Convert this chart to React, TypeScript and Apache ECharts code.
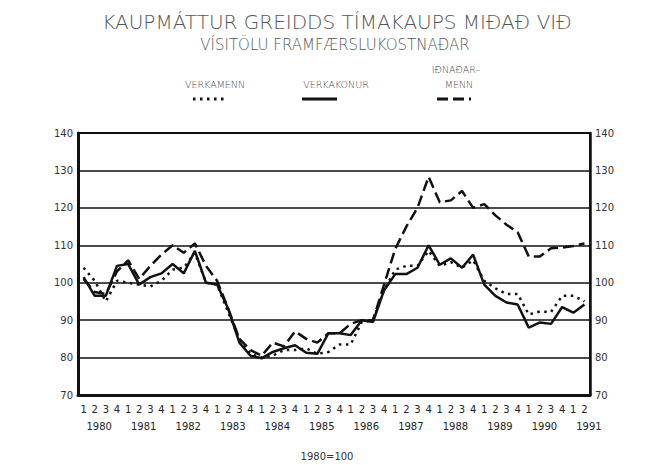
import React, { useEffect, useRef } from "react";
import * as echarts from "echarts";

const years = [1980, 1981, 1982, 1983, 1984, 1985, 1986, 1987, 1988, 1989, 1990, 1991];
const quartersPerYear = ["1", "2", "3", "4"];
const lastYearQuarters = 2;

const verkamenn = [
  104, 100.5, 95, 100.5, 100, 99.5, 99, 100.5, 103.5, 104, 108, 100,
  99.5, 92, 85, 81, 80, 80.5, 82, 82, 82.5, 81, 81.5, 83.5,
  83.5, 89.5, 90, 98, 103.5, 104.5, 104.5, 108.5, 104.5, 105.5, 104, 106,
  100.5, 98.5, 97, 97, 91.5, 92.3, 92.2, 96.5, 96.5, 95,
];
const verkakonur = [
  101.5, 96.5, 96.5, 104.5, 105, 99.5, 101.5, 102.5, 105, 102.5, 108.5, 100,
  99.5, 93, 84, 80.5, 79.8, 81.5, 82.5, 83.3, 81.3, 81, 86.5, 86.5,
  86, 90, 89.5, 98, 102.3, 102.3, 104, 110, 104.8, 106.5, 104, 107.5,
  99.5, 96.5, 94.7, 94.2, 88, 89.4, 89, 93.5, 92, 94.2,
];
const idnadarmenn = [
  101, 97.5, 97, 103, 106, 101, 104.5, 107.5, 110, 108, 110.5, 104.5,
  100.5, 93, 85, 82, 80.5, 84, 83, 87, 85, 84, 86.5, 86.5,
  89, 90, 90, 99.5, 109, 115, 120, 128.3, 121.5, 122, 124.5, 120,
  121, 118, 115.5, 113.5, 107, 107, 109.2, 109.4, 109.8, 110.5,
];
const yTicks = { min: 70, max: 140, interval: 10 };

const titleLine1 = "KAUPMÁTTUR GREIDDS TÍMAKAUPS MIÐAÐ VIÐ";
const titleLine2 = "VÍSITÖLU FRAMFÆRSLUKOSTNAÐAR";
const baseNote = "1980=100";

const categories: string[] = [];
years.forEach((y, yi) => {
  const qs = yi === years.length - 1 ? quartersPerYear.slice(0, lastYearQuarters) : quartersPerYear;
  qs.forEach((q) => categories.push(`${y}-${q}`));
});

const FONT = "DejaVu Sans";
const INK = "#111";

export default function App() {
  const ref = useRef<HTMLDivElement>(null);
  useEffect(() => {
    document.body.style.margin = "0";
    const chart = echarts.init(ref.current!, undefined, { renderer: "svg" });
    const legendText = (text: string, x: number, y: number) => ({
      type: "text",
      x,
      y,
      style: {
        text,
        fill: "#444",
        font: `200 9.5px '${FONT}'`,
        textAlign: "center",
        textVerticalAlign: "middle",
      },
    });
    chart.setOption({
      animation: false,
      backgroundColor: "#fff",
      grid: {
        left: 78,
        right: 66,
        top: 133,
        bottom: 70,
        show: true,
        borderColor: INK,
        borderWidth: 2,
        backgroundColor: "transparent",
      },
      graphic: [
        {
          type: "text",
          x: 337,
          y: 22,
          style: {
            text: titleLine1,
            fill: "#555",
            font: `200 20px '${FONT}'`,
            textAlign: "center",
            textVerticalAlign: "middle",
          },
        },
        {
          type: "text",
          x: 335,
          y: 45,
          style: {
            text: titleLine2,
            fill: "#555",
            font: `200 15px '${FONT}'`,
            textAlign: "center",
            textVerticalAlign: "middle",
          },
        },
        legendText("VERKAMENN", 215, 84),
        legendText("VERKAKONUR", 336, 84),
        legendText("IÐNAÐAR–", 456, 69),
        legendText("MENN", 459, 84),
        {
          type: "line",
          shape: { x1: 193, y1: 99, x2: 224, y2: 99 },
          style: { stroke: INK, lineWidth: 3, lineDash: [2.5, 4.5] },
        },
        {
          type: "line",
          shape: { x1: 302, y1: 99, x2: 337, y2: 99 },
          style: { stroke: INK, lineWidth: 3 },
        },
        {
          type: "line",
          shape: { x1: 437, y1: 99, x2: 471, y2: 99 },
          style: { stroke: INK, lineWidth: 3, lineDash: [11, 5] },
        },
        {
          type: "text",
          x: 327,
          y: 456,
          style: {
            text: baseNote,
            fill: "#333",
            font: `10px '${FONT}'`,
            textAlign: "center",
            textVerticalAlign: "middle",
          },
        },
      ],
      xAxis: [
        {
          type: "category",
          data: categories,
          boundaryGap: true,
          axisLine: { show: true, lineStyle: { color: INK, width: 3 } },
          axisTick: { show: false },
          splitLine: { show: false },
          axisLabel: {
            interval: 0,
            margin: 9,
            color: "#222",
            fontFamily: FONT,
            fontSize: 10,
            formatter: (v: string) => v.split("-")[1],
          },
        },
        {
          type: "category",
          data: categories,
          position: "bottom",
          offset: 17,
          boundaryGap: true,
          axisLine: { show: false },
          axisTick: { show: false },
          splitLine: { show: false },
          axisLabel: {
            interval: 0,
            margin: 9,
            color: "#222",
            fontFamily: FONT,
            fontSize: 10,
            formatter: (v: string) => {
              const [y, q] = v.split("-");
              return q === "2" ? `{y|${y}}` : "";
            },
            rich: { y: { padding: [0, 0, 0, 9], fontFamily: FONT, fontSize: 10, color: "#222" } },
          },
        },
      ],
      yAxis: [
        {
          type: "value",
          position: "left",
          ...yTicks,
          axisLine: { show: true, lineStyle: { color: INK, width: 3 } },
          axisTick: { show: false },
          splitLine: { show: true, lineStyle: { color: INK, width: 1.5 } },
          axisLabel: { color: "#333", fontFamily: FONT, fontSize: 10, margin: 5 },
        },
        {
          type: "value",
          position: "right",
          ...yTicks,
          axisLine: { show: true, lineStyle: { color: INK, width: 2.5 } },
          axisTick: { show: false },
          splitLine: { show: false },
          axisLabel: { color: "#333", fontFamily: FONT, fontSize: 10, margin: 5 },
        },
      ],
      series: [
        {
          name: "Verkamenn",
          type: "line",
          data: verkamenn,
          symbol: "none",
          lineStyle: { color: INK, width: 2.5, type: [2.5, 4.5] },
          z: 3,
        },
        {
          name: "Verkakonur",
          type: "line",
          data: verkakonur,
          symbol: "none",
          lineStyle: { color: INK, width: 2.5, type: "solid" },
          z: 4,
        },
        {
          name: "Iðnaðarmenn",
          type: "line",
          data: idnadarmenn,
          symbol: "none",
          lineStyle: { color: INK, width: 2.5, type: [11, 5] },
          z: 3,
        },
      ],
    });
    return () => chart.dispose();
  }, []);
  return <div ref={ref} style={{ position: "fixed", left: 0, top: 0, width: 656, height: 465 }} />;
}
